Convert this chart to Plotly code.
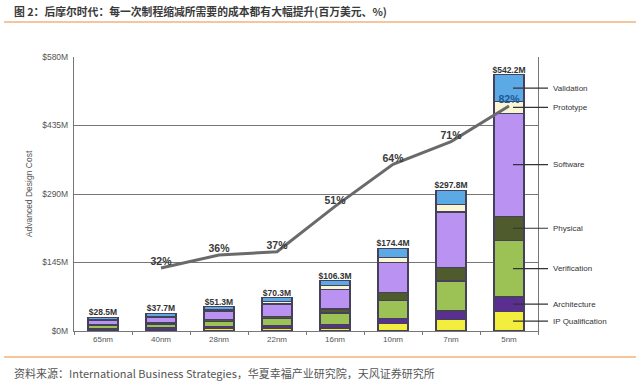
import plotly.graph_objects as go

# ---- data ----
categories = ['65nm', '40nm', '28nm', '22nm', '16nm', '10nm', '7nm', '5nm']
ip_qualification = [3.0, 3.5, 5.0, 5.5, 6.5, 16.0, 25.0, 42.0]
architecture = [3.0, 3.5, 4.5, 5.0, 7.0, 10.6, 17.5, 30.0]
verification = [5.0, 7.0, 10.5, 16.0, 24.5, 38.7, 63.5, 120.0]
physical = [2.5, 3.0, 4.0, 5.0, 8.5, 15.5, 28.0, 51.0]
software = [8.0, 11.0, 17.5, 25.8, 42.0, 64.0, 118.0, 218.0]
prototype = [2.0, 2.5, 3.0, 4.5, 7.0, 10.6, 15.7, 24.7]
validation = [5.0, 7.2, 6.8, 8.5, 10.8, 19.0, 30.1, 56.5]
totals = [28.5, 37.7, 51.3, 70.3, 106.3, 174.4, 297.8, 542.2]
total_labels = ['$28.5M', '$37.7M', '$51.3M', '$70.3M', '$106.3M', '$174.4M', '$297.8M', '$542.2M']
pct_categories = ['40nm', '28nm', '22nm', '16nm', '10nm', '7nm', '5nm']
pct_values = [32, 36, 37, 51, 64, 71, 82]
pct_labels = ['32%', '36%', '37%', '51%', '64%', '71%', '82%']
y_tickvals = [0, 145, 290, 435, 580]
y_ticktext = ['$0M', '$145M', '$290M', '$435M', '$580M']

series = [
    ('IP Qualification', ip_qualification, '#F3EE3E'),
    ('Architecture', architecture, '#5B2E92'),
    ('Verification', verification, '#9CC255'),
    ('Physical', physical, '#4F5B2D'),
    ('Software', software, '#BA92F2'),
    ('Prototype', prototype, '#FAF6D4'),
    ('Validation', validation, '#5BAAE5'),
]

FONT = 'Liberation Sans, Arial, sans-serif'
CJK = 'Noto Sans CJK SC, sans-serif'

fig = go.Figure()
for name, vals, color in series:
    fig.add_trace(go.Bar(
        x=categories, y=vals, name=name,
        marker=dict(color=color, line=dict(color='#45415A', width=1.2)),
        hoverinfo='skip',
    ))

fig.add_trace(go.Scatter(
    x=categories, y=totals, mode='text', text=total_labels,
    textposition='top center',
    textfont=dict(family=FONT, size=8.5, color='#333333'),
    texttemplate='<b>%{text}</b>', hoverinfo='skip',
))

fig.add_trace(go.Scatter(
    x=pct_categories, y=pct_values, yaxis='y2', mode='lines+text',
    line=dict(color='#6A6A6A', width=3),
    text=pct_labels, texttemplate='<b>%{text}</b>', textposition='top center',
    textfont=dict(family=FONT, size=10.5,
                  color=['#3A3A3A'] * 6 + ['#1E5A96']),
    hoverinfo='skip',
))

# right-hand segment labels with leader lines (from 5nm bar segments)
plot_l, plot_r = 74, 538
pw = plot_r - plot_l
def px_to_paper_x(px):
    return (px - plot_l) / pw

cum = 0.0
shapes = []
annotations = []
for name, vals, color in series:
    v = vals[-1]
    mid = cum + v / 2
    cum += v
    shapes.append(dict(type='line', xref='paper', yref='y',
                       x0=px_to_paper_x(513), x1=px_to_paper_x(548), y0=mid, y1=mid,
                       line=dict(color='#333333', width=1.2)))
    annotations.append(dict(xref='paper', yref='y', x=px_to_paper_x(551), y=mid,
                            text=name, showarrow=False, xanchor='left', yanchor='middle',
                            font=dict(family=FONT, size=8, color='#333333')))

plot_t, plot_b = 57, 331
ph = plot_b - plot_t
def px_to_paper_y(py):
    return (plot_b - py) / ph

# orange rule lines
for py in (22, 357):
    shapes.append(dict(type='line', xref='paper', yref='paper',
                       x0=px_to_paper_x(4), x1=px_to_paper_x(636),
                       y0=px_to_paper_y(py), y1=px_to_paper_y(py),
                       line=dict(color='#F2B27E', width=1.5)))

annotations.append(dict(xref='paper', yref='paper', x=px_to_paper_x(12), y=px_to_paper_y(11),
                        text='<b>图 2：后摩尔时代：每一次制程缩减所需要的成本都有大幅提升(百万美元、%)</b>',
                        showarrow=False, xanchor='left', yanchor='middle',
                        font=dict(family=CJK, size=10.8, color='#3A3A3A')))
annotations.append(dict(xref='paper', yref='paper', x=px_to_paper_x(12), y=px_to_paper_y(373),
                        text='资料来源：International Business Strategies，华夏幸福产业研究院，天风证券研究所',
                        showarrow=False, xanchor='left', yanchor='middle',
                        font=dict(family=CJK, size=11, color='#555555')))

fig.update_layout(
    width=640, height=385,
    margin=dict(l=plot_l, r=640 - plot_r, t=plot_t, b=385 - plot_b),
    paper_bgcolor='white', plot_bgcolor='white',
    barmode='stack', bargap=0.48,
    showlegend=False,
    font=dict(family=FONT, size=8, color='#555555'),
    xaxis=dict(type='category', range=[-0.5, 7.5], showline=True, linecolor='#777777',
               linewidth=1.2, ticks='outside', tickson='boundaries', ticklen=3,
               tickcolor='#777777', showgrid=False,
               tickfont=dict(family=FONT, size=8, color='#555555')),
    yaxis=dict(range=[0, 580], tickvals=y_tickvals, ticktext=y_ticktext,
               showgrid=True, gridcolor='#777777', gridwidth=1.2,
               showline=True, linecolor='#777777', linewidth=1.2, mirror=True,
               zeroline=False, ticks='', ticklabelstandoff=3,
               tickfont=dict(family=FONT, size=8.5, color='#555555'),
               title=dict(text='Advanced Design Cost', standoff=8,
                          font=dict(family=FONT, size=8.5, color='#555555'))),
    yaxis2=dict(overlaying='y', range=[12.56, 97.1], visible=False),
    shapes=shapes, annotations=annotations,
)

fig.write_html('out.html', config={'displayModeBar': False},
               post_script="document.body.style.margin='0';document.body.style.padding='0';")
